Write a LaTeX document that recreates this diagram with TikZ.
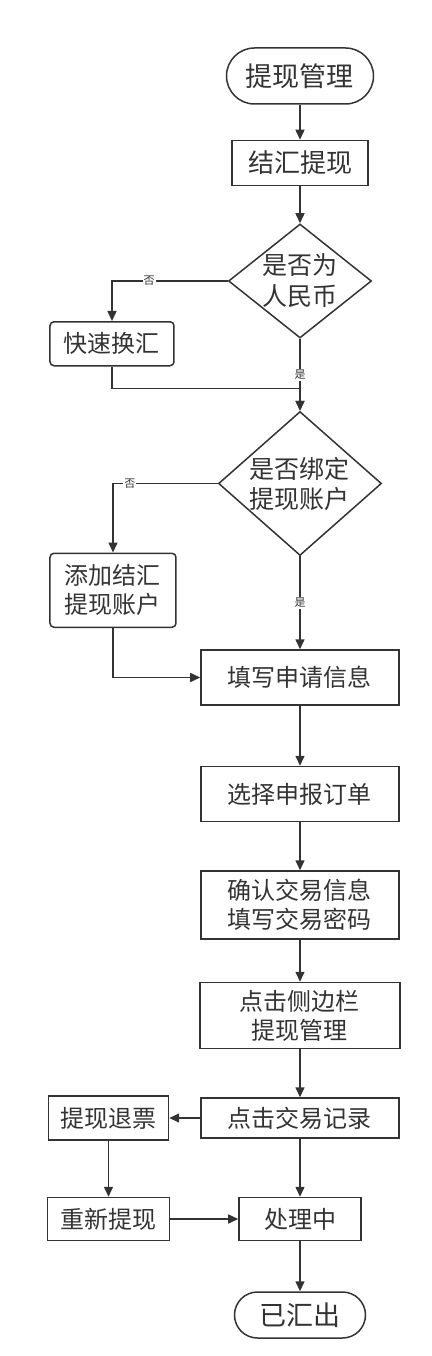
\documentclass[tikz,border=0pt]{standalone}
\usepackage{fontspec}
\setmainfont{Noto Sans CJK SC}
\definecolor{ink}{RGB}{51, 51, 51}
\usetikzlibrary{shapes.geometric, arrows.meta, positioning}

\begin{document}
\begin{tikzpicture}[
        box/.style={draw=ink, line width=1.5pt, text=ink, align=center, inner sep=0pt, minimum width=198pt, minimum height=55pt, font=\fontsize{24}{29}\selectfont},
        side/.style={box, rounded corners=4pt, minimum width=124pt, minimum height=44pt},
        term/.style={box, rounded corners=23pt, minimum width=131pt, minimum height=46pt, font=\fontsize{27}{32}\selectfont},
        dec/.style={box, diamond, inner sep=-6pt, font=\fontsize{25}{31}\selectfont},
        arr/.style={-{Triangle[length=10pt, width=9pt]}, line width=1.5pt, draw=ink},
        lbl/.style={fill=white, text=ink, inner sep=1pt, font=\fontsize{11}{13}\selectfont}
    ]
        \useasboundingbox (-300pt, 76pt) rectangle (131pt, -1280pt);
        \node[term, minimum width=147pt, minimum height=56pt, rounded corners=28pt] (start) {提现管理};
        \node[box, below=35pt of start, minimum width=136pt, minimum height=45pt, font=\fontsize{26}{30}\selectfont] (jiehui) {结汇提现};
        \node[dec, below=37pt of jiehui, minimum width=143pt, minimum height=114pt, aspect=1.25] (rmb) {是否为\\人民币};
        \node[side, below left=40pt and 53pt of rmb.west] (kuaisu) {快速换汇};
        \node[dec, below=72pt of rmb, minimum width=163pt, minimum height=144pt, aspect=1.13, font=\fontsize{25}{30}\selectfont] (bangding) {是否绑定\\提现账户};
        \node[side, below left=69pt and 41pt of bangding.west, minimum width=126pt, minimum height=74pt] (tianjia) {添加结汇\\提现账户};
        \node[box, below=93pt of bangding] (shenqing) {填写申请信息};
        \node[box, below=60pt of shenqing] (dingdan) {选择申报订单};
        \node[box, below=48pt of dingdan, minimum height=68pt] (queren) {确认交易信息\\填写交易密码};
        \node[box, below=42pt of queren, minimum width=200pt, minimum height=66pt] (cebian) {点击侧边栏\\提现管理};
        \node[box, below=48pt of cebian, minimum height=40pt] (jilu) {点击交易记录};
        \node[box, left=31pt of jilu, minimum width=120pt, minimum height=44pt] (tuipiao) {提现退票};
        \node[box, below=58pt of jilu, minimum width=122pt, minimum height=43pt] (chuli) {处理中};
        \node[box, left=68pt of chuli, minimum width=122pt, minimum height=43pt] (chongxin) {重新提现};
        \node[term, below=50pt of chuli] (huichu) {已汇出};
        \draw[arr] (start) -- (jiehui);
        \draw[arr] (jiehui) -- (rmb);
        \draw[arr] (rmb.west) -| node[lbl, pos=0.34] {否} (kuaisu.north);
        \draw[arr] (rmb.south) -- node[lbl] {是} (bangding.north);
        \draw[arr] (kuaisu.south) -- ++(0, -22pt) -| (bangding.north);
        \draw[arr] (bangding.west) -| node[lbl, pos=0.42] {否} (tianjia.north);
        \draw[arr] (bangding.south) -- node[lbl] {是} (shenqing.north);
        \draw[arr] (tianjia.south) |- (shenqing.west);
        \draw[arr] (shenqing) -- (dingdan);
        \draw[arr] (dingdan) -- (queren);
        \draw[arr] (queren) -- (cebian);
        \draw[arr] (cebian) -- (jilu);
        \draw[arr] (jilu) -- (tuipiao);
        \draw[arr] (tuipiao) -- (chongxin);
        \draw[arr] (chongxin) -- (chuli);
        \draw[arr] (jilu) -- (chuli);
        \draw[arr] (chuli) -- (huichu);
    \end{tikzpicture}
\end{document}
